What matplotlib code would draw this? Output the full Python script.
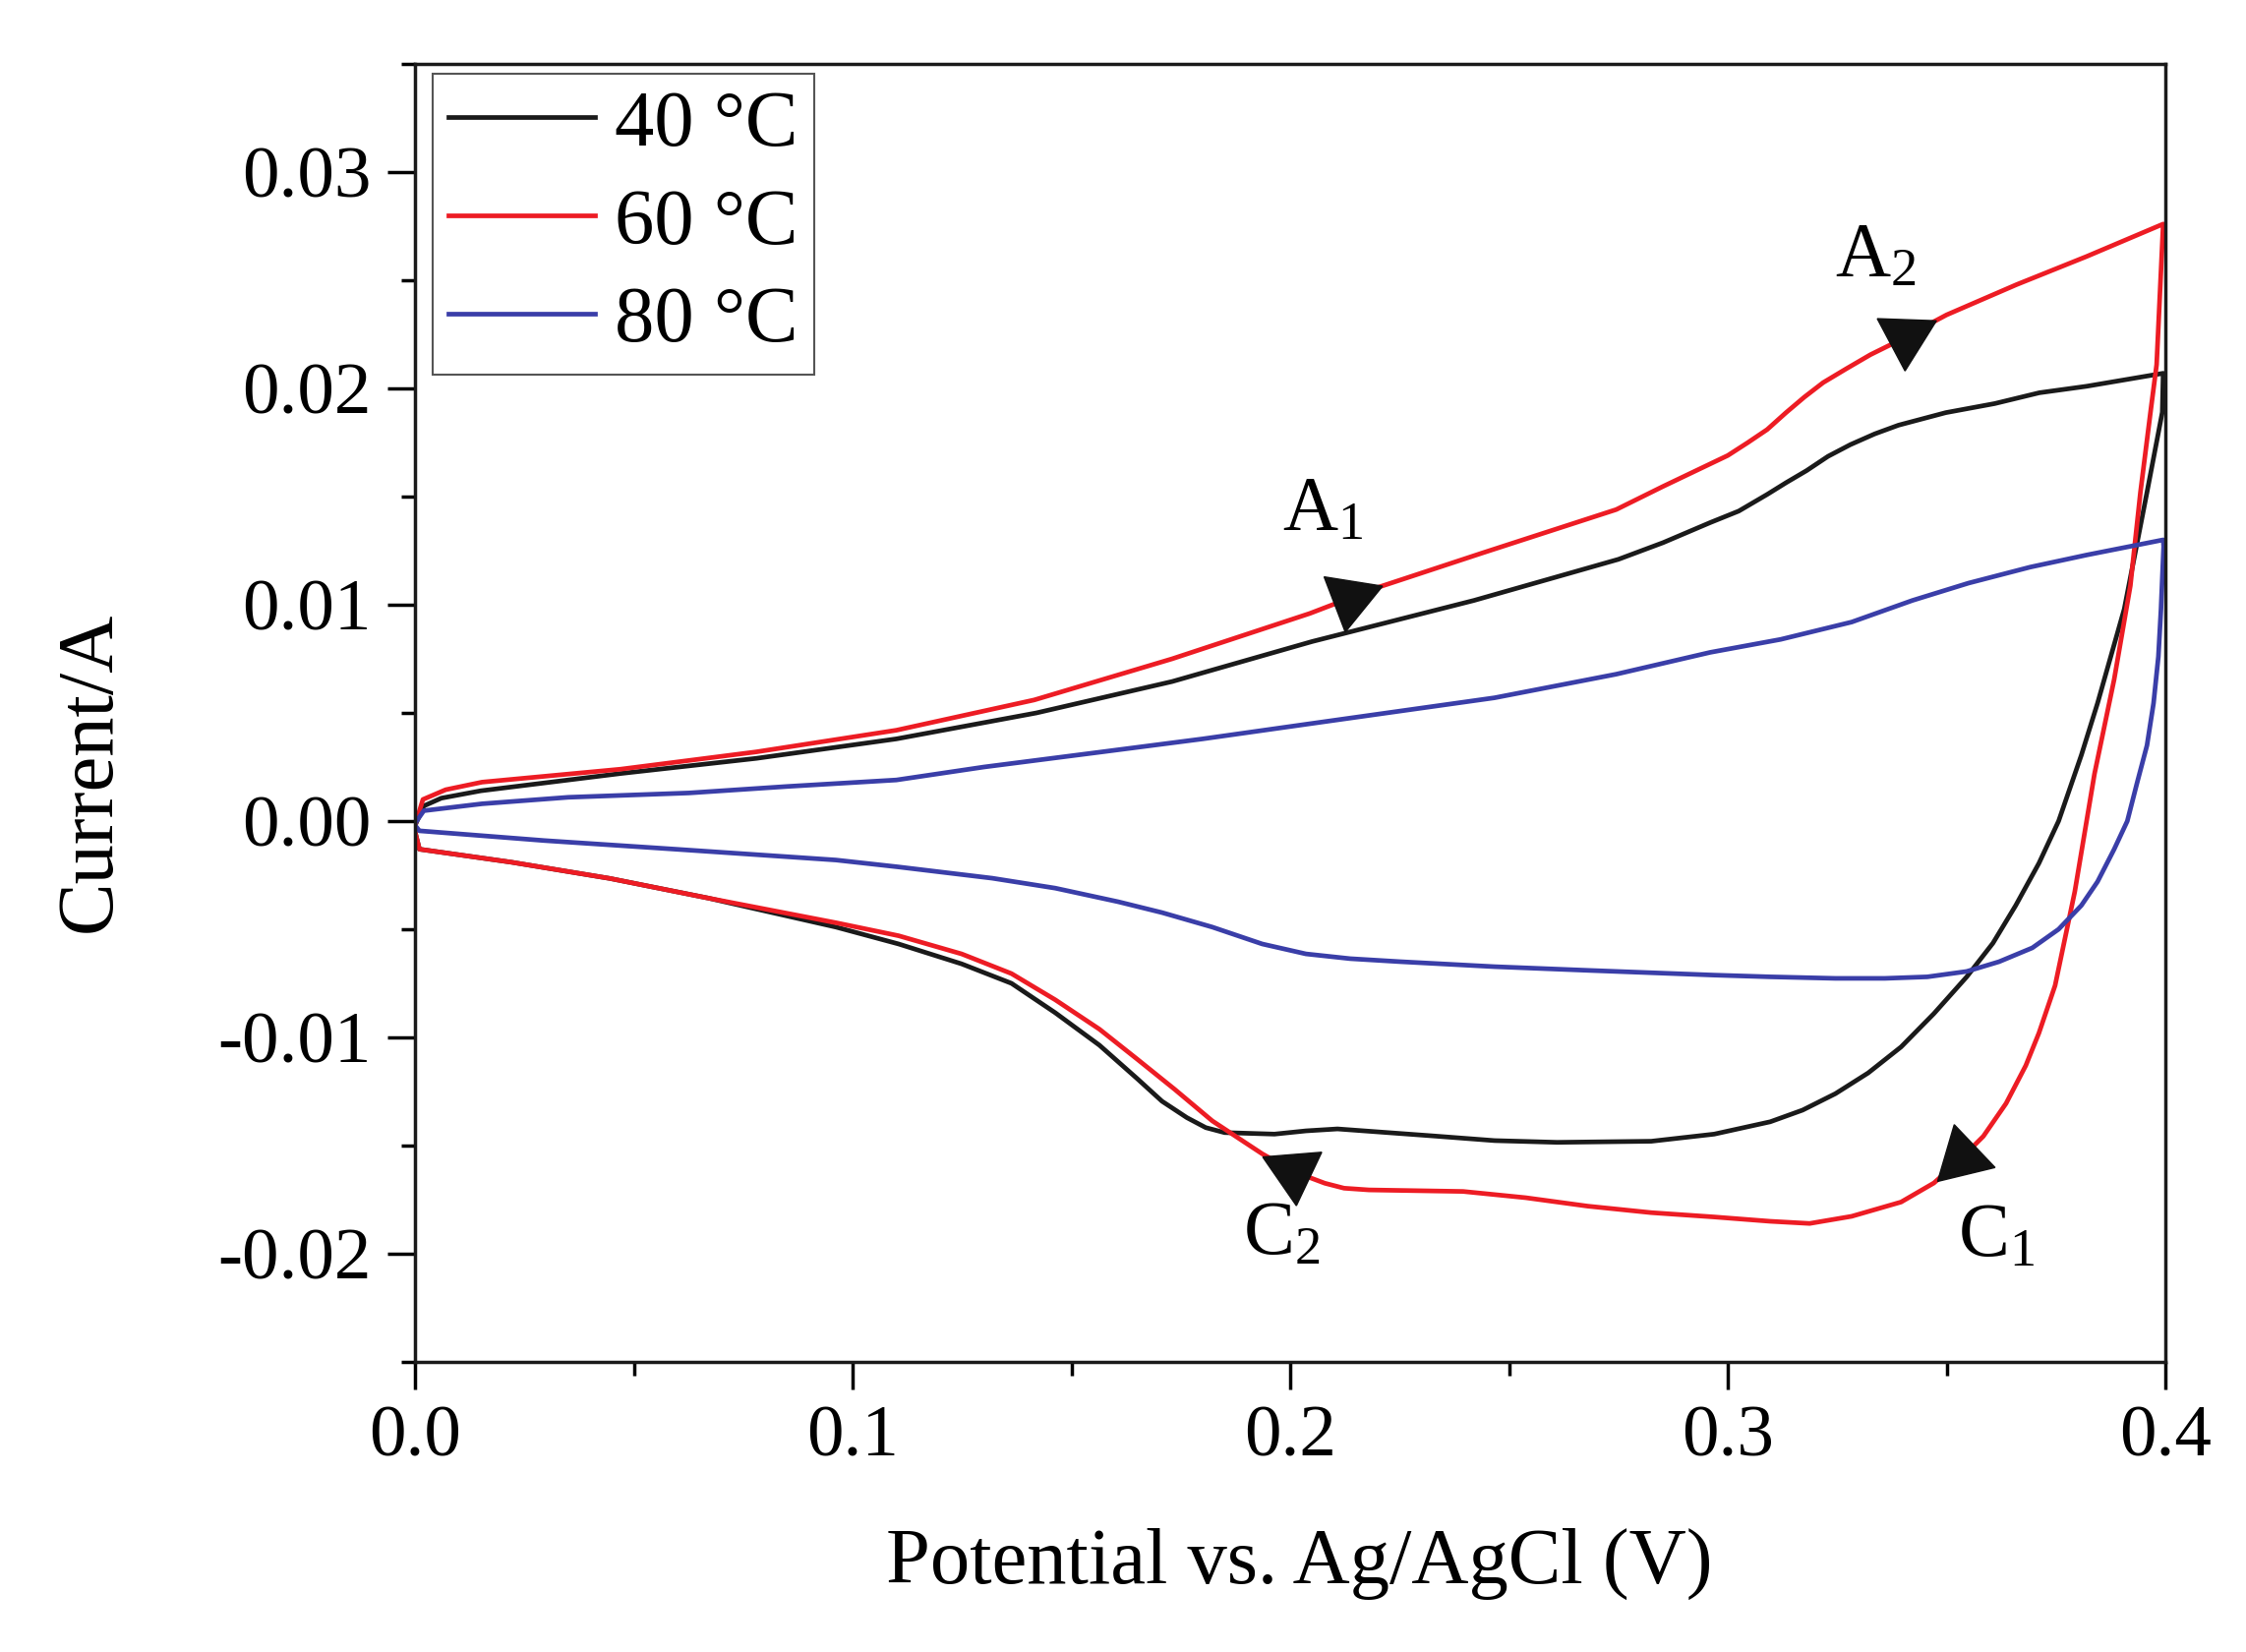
import numpy as np
import matplotlib
matplotlib.use('Agg')
import matplotlib.pyplot as plt
from matplotlib.ticker import MultipleLocator, FormatStrFormatter

plt.rcParams['font.family'] = ['Liberation Serif', 'DejaVu Serif']
plt.rcParams['mathtext.default'] = 'regular'
plt.rcParams['axes.unicode_minus'] = False

# 40 C : forward scan (0 -> 0.4 V) and reverse scan (0.4 -> 0 V)
v40_fwd = [0.0, 0.002, 0.006, 0.015, 0.047, 0.078, 0.110, 0.142, 0.173, 0.205, 0.242, 0.275, 0.2852,
           0.296, 0.3025, 0.309, 0.3133, 0.318, 0.3229, 0.328, 0.3336, 0.339, 0.3498, 0.361, 0.3712,
           0.382, 0.3995]
i40_fwd = [-0.0002, 0.0007, 0.00106, 0.0014, 0.0022, 0.0029, 0.0038, 0.0050, 0.00645, 0.0083, 0.0102, 0.0121, 0.01287,
           0.0138, 0.01433, 0.0151, 0.01564, 0.0162, 0.01686, 0.0174, 0.0179, 0.0183, 0.01888, 0.0193, 0.0198,
           0.0201, 0.0207]
v40_rev = [0.3993, 0.3958, 0.3906, 0.3845, 0.3808, 0.3756, 0.3711, 0.3658, 0.3606, 0.3546, 0.3471,
           0.3396, 0.3321, 0.3246, 0.3171, 0.3097, 0.2969, 0.2825, 0.261, 0.2467, 0.2324, 0.2108,
           0.2036, 0.1964, 0.185, 0.1807, 0.1764, 0.1707, 0.165, 0.1564, 0.1463, 0.1363, 0.1249,
           0.1105, 0.0962, 0.067, 0.0445, 0.022, 0.001, 0.0]
i40_rev = [0.0189, 0.0152, 0.0098, 0.00545, 0.00305, 0.0, -0.00195, -0.0039, -0.00564, -0.0072, -0.0089,
           -0.01044, -0.01164, -0.0126, -0.01336, -0.0139, -0.01447, -0.0148, -0.01485, -0.01477, -0.01455, -0.01423,
           -0.01432, -0.01447, -0.0144, -0.01417, -0.01371, -0.01295, -0.0119, -0.01036, -0.00886, -0.0075, -0.0066,
           -0.00568, -0.0049, -0.00356, -0.00265, -0.0019, -0.0013, -0.0005]

# 60 C
v60_fwd = [0.0, 0.0018, 0.007, 0.0153, 0.047, 0.078, 0.110, 0.1415, 0.173, 0.2045, 0.220, 0.244,
           0.2745, 0.2852, 0.300, 0.3046, 0.309, 0.3133, 0.3175, 0.3218, 0.327, 0.3326, 0.337,
           0.350, 0.366, 0.382, 0.3995]
i60_fwd = [-0.0002, 0.0010, 0.00145, 0.0018, 0.0024, 0.0032, 0.0042, 0.0056, 0.0075, 0.0096, 0.0108, 0.0124,
           0.0144, 0.01547, 0.0169, 0.0175, 0.0181, 0.01888, 0.0196, 0.02027, 0.0209, 0.02156, 0.0220,
           0.0234, 0.0248, 0.0261, 0.0276]
v60_rev = [0.398, 0.3966, 0.3943, 0.392, 0.3883, 0.3838, 0.3793, 0.3748, 0.3711, 0.3681, 0.3636,
           0.3584, 0.3531, 0.3471, 0.3396, 0.3283, 0.3187, 0.3097, 0.2969, 0.2825, 0.268, 0.2538,
           0.2395, 0.218, 0.2123, 0.2079, 0.2008, 0.1936, 0.1822, 0.1736, 0.165, 0.1564, 0.1463,
           0.1363, 0.1249, 0.1105, 0.0962, 0.067, 0.0445, 0.022, 0.001, 0.0]
i60_rev = [0.0211, 0.0189, 0.0152, 0.01088, 0.00655, 0.00218, -0.00326, -0.0076, -0.0098, -0.0113, -0.01305,
           -0.01457, -0.01564, -0.01673, -0.01761, -0.01827, -0.0186, -0.0185, -0.0183, -0.0181, -0.0178, -0.01741,
           -0.01712, -0.01705, -0.01697, -0.01674, -0.0162, -0.01538, -0.01386, -0.0124, -0.0110, -0.00962, -0.00826,
           -0.00705, -0.00614, -0.0053, -0.0047, -0.00356, -0.00265, -0.0019, -0.0013, -0.0005]

# 80 C
v80_fwd = [0.0, 0.002, 0.0153, 0.035, 0.0626, 0.085, 0.110, 0.130, 0.157, 0.180, 0.2045, 0.2467,
           0.2745, 0.296, 0.3121, 0.3283, 0.3422, 0.355, 0.3691, 0.382, 0.3995]
i80_fwd = [-0.0001, 0.00048, 0.0008, 0.0011, 0.0013, 0.0016, 0.0019, 0.0025, 0.0032, 0.0038, 0.0045, 0.0057,
           0.00679, 0.0078, 0.0084, 0.0092, 0.0102, 0.0110, 0.01174, 0.0123, 0.0130]
v80_rev = [0.3996, 0.399, 0.3984, 0.3973, 0.3958, 0.3935, 0.3913, 0.3883, 0.3845, 0.3808, 0.3756,
           0.3696, 0.362, 0.3546, 0.3456, 0.3359, 0.3246, 0.3097, 0.2969, 0.268, 0.2467, 0.2252,
           0.2137, 0.2036, 0.1936, 0.1822, 0.1707, 0.1607, 0.1463, 0.1319, 0.1105, 0.0962, 0.0595,
           0.0295, 0.001, 0.0]
i80_rev = [0.0127, 0.0098, 0.0076, 0.00545, 0.0035, 0.00174, 0.0, -0.0013, -0.0028, -0.0039, -0.005,
           -0.00586, -0.0065, -0.00695, -0.0072, -0.00727, -0.00727, -0.0072, -0.00712, -0.0069, -0.00673, -0.0065,
           -0.00636, -0.00614, -0.00568, -0.0049, -0.00423, -0.00373, -0.0031, -0.00264, -0.00212, -0.0018, -0.0013,
           -0.0009, -0.00045, -0.0002]

labels = ['40 \u00b0C', '60 \u00b0C', '80 \u00b0C']
colors = ['#1a1a1a', '#ed1c24', '#3a3ea8']

# peak arrows (on the 60 C curve) and their labels
peak_names = ['A$_1$', 'A$_2$', 'C$_2$', 'C$_1$']
peak_v = [0.2137, 0.3407, 0.2006, 0.3535]
peak_forward = [True, True, False, False]
peak_text_v = [0.1982, 0.3245, 0.1893, 0.3525]
peak_text_i = [0.0135, 0.02523, -0.0200, -0.0201]

fig = plt.figure(figsize=(22.84, 16.8), dpi=100)
fig.patch.set_facecolor('white')
ax = fig.add_axes([0.1848, 0.1756, 0.9641 - 0.1848, 0.9613 - 0.1756])

series = [(v40_fwd, i40_fwd, v40_rev, i40_rev),
          (v60_fwd, i60_fwd, v60_rev, i60_rev),
          (v80_fwd, i80_fwd, v80_rev, i80_rev)]
for (vf, cf, vr, cr), lab, col in zip(series, labels, colors):
    ax.plot(np.concatenate([vf, vr]), np.concatenate([cf, cr]), color=col, lw=3.4, label=lab,
            solid_joinstyle='round')

ax.set_xlim(0, 0.4)
ax.set_ylim(-0.025, 0.035)

#Arrows pointing along the scan direction
vf, cf, vr, cr = series[1]
for name, v, fwd in zip(peak_names, peak_v, peak_forward):
    if fwd:
        xs, ys = np.array(vf), np.array(cf)
    else:
        xs, ys = np.array(vr)[::-1], np.array(cr)[::-1]
    c = np.interp(v, xs, ys)
    dv = 0.004
    p0 = ax.transData.transform((v - dv, np.interp(v - dv, xs, ys)))
    p1 = ax.transData.transform((v + dv, np.interp(v + dv, xs, ys)))
    theta = np.degrees(np.arctan2(p1[1] - p0[1], p1[0] - p0[0]))
    if not fwd:
        theta += 180
    ax.plot(v, c, marker=(3, 0, theta - 90), markersize=50, color='#111111', zorder=5)

for name, tv, ti in zip(peak_names, peak_text_v, peak_text_i):
    ax.text(tv, ti, name, fontsize=56, ha='left', va='baseline')

#Axes and labels
ax.xaxis.set_major_locator(MultipleLocator(0.1))
ax.xaxis.set_minor_locator(MultipleLocator(0.05))
ax.yaxis.set_major_locator(MultipleLocator(0.01))
ax.yaxis.set_minor_locator(MultipleLocator(0.005))
ax.xaxis.set_major_formatter(FormatStrFormatter('%.1f'))
ax.yaxis.set_major_formatter(FormatStrFormatter('%.2f'))
ax.tick_params(which='major', direction='out', length=20, width=2.5, labelsize=54, pad=12,
               top=False, right=False)
ax.tick_params(which='minor', direction='out', length=10, width=2.5, top=False, right=False)
for s in ax.spines.values():
    s.set_linewidth(2.5)
    s.set_color('#1a1a1a')

ax.set_xlabel('Potential vs. Ag/AgCl (V)', fontsize=58)
ax.set_ylabel('Current/A', fontsize=58)
ax.xaxis.set_label_coords(0.505, -0.128)
ax.yaxis.set_label_coords(-0.165, 0.455)

leg = ax.legend(loc='upper left', bbox_to_anchor=(0.0101, 0.9924), borderaxespad=0, fontsize=58,
                fancybox=False, edgecolor='#555555', framealpha=1, handlelength=1.85,
                handletextpad=0.25, labelspacing=0.33, borderpad=0.2)
leg.get_frame().set_linewidth(1.5)

plt.savefig('out.png', dpi=100, facecolor='white')
